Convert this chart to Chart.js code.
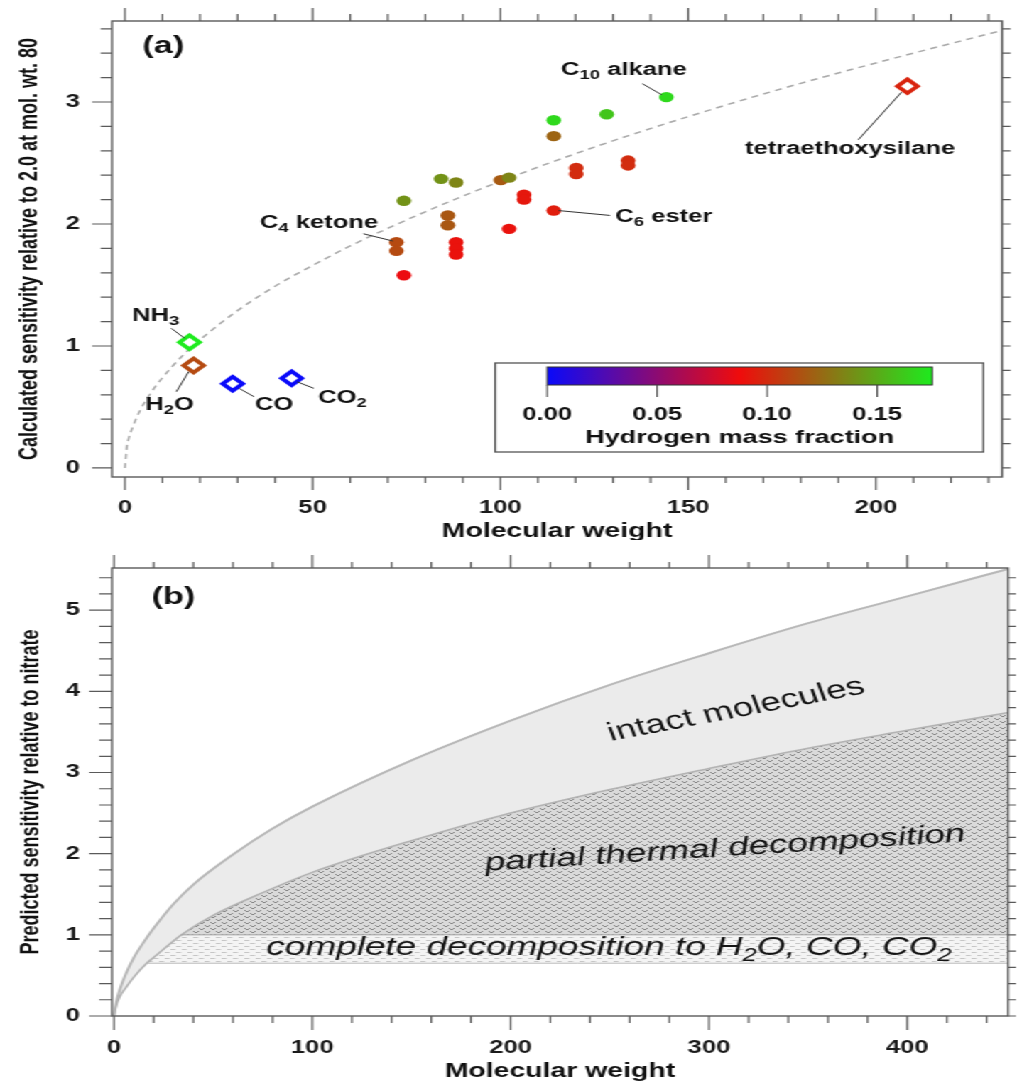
<!DOCTYPE html>
<html>
<head>
<meta charset="utf-8">
<title>Sensitivity vs molecular weight</title>
<script src="https://cdn.jsdelivr.net/npm/chart.js@4.4.1/dist/chart.umd.min.js"></script>
<style>
  html, body { margin:0; padding:0; background:#ffffff; overflow:hidden; }
  #wrap { position:absolute; left:0; top:0; width:716px; height:1081px; transform:scaleX(1.42039); transform-origin:0 0; }
  .box { position:absolute; left:0; width:716px; }
  #boxA { top:0; height:540px; }
  #boxB { top:540px; height:541px; }
</style>
</head>
<body>
<div id="wrap">
  <div class="box" id="boxA"><canvas id="chartA"></canvas></div>
  <div class="box" id="boxB"><canvas id="chartB"></canvas></div>
</div>
<script>
// ================= DATA =================
// Panel (a): organic compounds (filled circles)
const orgMW    = [144.2, 128.3, 114.2, 114.2, 134.0, 134.0, 120.2, 120.2, 84.2, 88.2, 100.1, 102.3, 106.3, 106.3, 114.2, 74.3, 86.0, 86.0, 102.3, 72.3, 72.3, 88.2, 88.2, 88.2, 74.3];
const orgSens  = [3.04, 2.90, 2.85, 2.72, 2.52, 2.48, 2.46, 2.41, 2.37, 2.34, 2.36, 2.38, 2.24, 2.20, 2.11, 2.19, 2.07, 1.99, 1.96, 1.85, 1.78, 1.85, 1.80, 1.75, 1.58];
const orgHfrac = [0.168, 0.160, 0.168, 0.122, 0.100, 0.100, 0.100, 0.100, 0.140, 0.135, 0.118, 0.135, 0.092, 0.092, 0.094, 0.140, 0.117, 0.117, 0.090, 0.112, 0.112, 0.090, 0.090, 0.090, 0.086];

// Panel (a): small molecules (open diamonds)
const gasNames = ['NH3', 'H2O', 'CO', 'CO2', 'tetraethoxysilane'];
const gasMW    = [17.2, 18.3, 28.7, 44.4, 208.4];
const gasSens  = [1.03, 0.84, 0.69, 0.735, 3.13];
const gasHfrac = [0.178, 0.112, 0.0, 0.0, 0.097];

// Panel (a): dashed reference curve (2.0 at mol. wt. 80)
const refMW   = [0, 0.5, 1, 2, 4, 7, 10, 15, 20, 30, 40, 50, 60, 80, 100, 125, 150, 175, 200, 234];
const refSens = [0, 0.17, 0.24, 0.33, 0.47, 0.62, 0.74, 0.91, 1.05, 1.29, 1.49, 1.66, 1.82, 2.10, 2.35, 2.63, 2.88, 3.11, 3.32, 3.59];

// Panel (a): axis ticks and colour bar ticks
const aXTicks = [0, 50, 100, 150, 200];
const aYTicks = [0, 1, 2, 3];
const cbTicks = [0.00, 0.05, 0.10, 0.15];
const cbTickLabels = ['0.00', '0.05', '0.10', '0.15'];

// Panel (b): boundaries
const upMW    = [0, 1, 3, 6, 10, 15, 20, 30, 40, 60, 80, 100, 150, 200, 250, 300, 350, 400, 451];
const upSens  = [0, 0.15, 0.33, 0.52, 0.72, 0.91, 1.08, 1.38, 1.62, 1.99, 2.31, 2.58, 3.15, 3.64, 4.08, 4.47, 4.84, 5.17, 5.51];
const midMW   = [0, 1, 3, 6, 10, 16.5, 20, 34, 50, 75, 100, 150, 200, 250, 300, 350, 400, 451];
const midSens = [0, 0.12, 0.24, 0.35, 0.48, 0.65, 0.72, 1.00, 1.24, 1.52, 1.77, 2.16, 2.50, 2.79, 3.05, 3.30, 3.52, 3.74];
const bandTopMW   = [34, 451];
const bandTopSens = [1.0, 1.0];
const bandLowMW   = [16.5, 451];
const bandLowSens = [0.65, 0.65];

// Panel (b): axis ticks
const bXTicks = [0, 100, 200, 300, 400];
const bYTicks = [0, 1, 2, 3, 4, 5];

// ================= STYLE HELPERS =================
const FAM = '"Liberation Sans", Arial, Helvetica, sans-serif';
Chart.defaults.font.family = FAM;
Chart.defaults.color = '#1a1a1a';

function hColor(h) {
  const hm = 0.0875, hx = 0.175;
  const B = [10, 10, 250], R = [240, 12, 12], G = [30, 235, 30];
  let c;
  if (h <= hm) {
    const t = Math.max(0, h / hm);
    c = B.map((v, i) => v + (R[i] - v) * t);
  } else {
    const t = Math.min(1, (h - hm) / (hx - hm));
    c = R.map((v, i) => v + (G[i] - v) * t);
  }
  return 'rgb(' + c.map(Math.round).join(',') + ')';
}
function pts(xs, ys) { return xs.map((x, i) => ({x: x, y: ys[i]})); }
function steps(a, b, s) { const o = []; for (let k = 0; a + k * s <= b + 1e-9; k++) o.push(+(a + k * s).toFixed(6)); return o; }
function isMajor(v, step) { const r = v / step; return Math.abs(r - Math.round(r)) < 1e-6; }
function noPad(s) { s.paddingTop = 0; s.paddingBottom = 0; s.paddingLeft = 0; s.paddingRight = 0; }

function drawRich(ctx, parts, x, y, size, o) {
  const st = o.italic ? 'italic ' : '';
  const wt = o.weight || 'bold';
  const fMain = st + wt + ' ' + size + 'px ' + FAM;
  const fSub = st + wt + ' ' + Math.round(size * 0.7) + 'px ' + FAM;
  let w = 0;
  parts.forEach(p => { ctx.font = p[1] ? fSub : fMain; w += ctx.measureText(p[0]).width; });
  let cx = o.align === 'left' ? x : (o.align === 'right' ? x - w : x - w / 2);
  ctx.textBaseline = 'middle';
  ctx.textAlign = 'left';
  parts.forEach(p => {
    ctx.font = p[1] ? fSub : fMain;
    ctx.fillText(p[0], cx, p[1] ? y + size * 0.3 : y);
    cx += ctx.measureText(p[0]).width;
  });
}

function drawFrame(chart, t) {
  const {ctx, chartArea: a, scales: {x, y}} = chart;
  ctx.save();
  ctx.strokeStyle = '#5a5a5a';
  ctx.lineWidth = 1.2;
  ctx.beginPath();
  t.xMinor.forEach(v => {
    const px = x.getPixelForValue(v);
    const maj = isMajor(v, t.xMajor);
    ctx.moveTo(px, a.bottom); ctx.lineTo(px, a.bottom + (maj ? t.bMaj : t.bMin));
    ctx.moveTo(px, a.top); ctx.lineTo(px, a.top - (maj ? t.tMaj : t.tMin));
  });
  t.yMinor.forEach(v => {
    const py = y.getPixelForValue(v);
    const maj = isMajor(v, 1);
    ctx.moveTo(a.left, py); ctx.lineTo(a.left - (maj ? t.lMaj : t.lMin), py);
    ctx.moveTo(a.right, py); ctx.lineTo(a.right + t.rLen, py);
  });
  ctx.stroke();
  ctx.lineWidth = 1.4;
  ctx.strokeRect(a.left, a.top, a.right - a.left, a.bottom - a.top);
  ctx.restore();
}

function drawTitles(chart, xt, yt, xTitleY, yTitleX) {
  const {ctx, chartArea: a} = chart;
  ctx.save();
  ctx.fillStyle = '#111';
  ctx.textAlign = 'center';
  ctx.textBaseline = 'middle';
  ctx.font = 'bold 20px ' + FAM;
  ctx.fillText(xt, (a.left + a.right) / 2, xTitleY);
  ctx.translate(yTitleX, (a.top + a.bottom) / 2);
  ctx.rotate(-Math.PI / 2);
  ctx.font = 'bold 18px ' + FAM;
  ctx.fillText(yt, 0, 0);
  ctx.restore();
}

// ================= PANEL (a) =================
const aNotes = [
  {t: [['C', 0], ['10', 1], [' alkane', 0]], x: 132.9, y: 3.26, l: [137.8, 3.15, 142.9, 3.06]},
  {t: [['tetraethoxysilane', 0]], x: 193.1, y: 2.615, l: [206.8, 3.08, 195.3, 2.69]},
  {t: [['C', 0], ['6', 1], [' ester', 0]], x: 143.5, y: 2.057, l: [115.5, 2.11, 129.2, 2.07]},
  {t: [['C', 0], ['4', 1], [' ketone', 0]], x: 51.7, y: 2.01, l: [63.5, 1.92, 71.4, 1.86]},
  {t: [['NH', 0], ['3', 1]], x: 8.2, y: 1.246, l: [12.35, 1.145, 15.9, 1.063]},
  {t: [['H', 0], ['2', 1], ['O', 0]], x: 11.9, y: 0.516, l: [13.7, 0.625, 17.0, 0.79]},
  {t: [['CO', 0]], x: 39.7, y: 0.512, l: [30.4, 0.653, 34.4, 0.584]},
  {t: [['CO', 0], ['2', 1]], x: 57.9, y: 0.57, l: [45.8, 0.707, 50.3, 0.653]}
];

const plugA = {
  id: 'plugA',
  afterDatasetsDraw(chart) {
    const {ctx, scales: {x, y}} = chart;
    ctx.save();
    ctx.strokeStyle = '#333';
    ctx.lineWidth = 1;
    aNotes.forEach(n => {
      ctx.beginPath();
      ctx.moveTo(x.getPixelForValue(n.l[0]), y.getPixelForValue(n.l[1]));
      ctx.lineTo(x.getPixelForValue(n.l[2]), y.getPixelForValue(n.l[3]));
      ctx.stroke();
      ctx.fillStyle = '#111';
      drawRich(ctx, n.t, x.getPixelForValue(n.x), y.getPixelForValue(n.y), 18, {weight: 'bold'});
    });
    ctx.restore();
  },
  afterDraw(chart) {
    const {ctx, chartArea: a} = chart;
    drawFrame(chart, {xMinor: steps(0, 230, 10), xMajor: 50, yMinor: steps(0, 3.6, 0.2),
      bMaj: 13, bMin: 6, tMaj: 13, tMin: 7, lMaj: 14, lMin: 8, rLen: 6});
    // panel label
    ctx.save();
    ctx.fillStyle = '#111';
    ctx.font = 'bold 24px ' + FAM;
    ctx.textAlign = 'left'; ctx.textBaseline = 'middle';
    ctx.fillText('(a)', a.left + 21.5, a.top + 25);
    // colour bar legend
    const box = {x1: 348.6, x2: 692.3, y1: 363, y2: 452};
    const bar = {x1: 385.2, x2: 656.3, y1: 367, y2: 385, vmax: 0.175};
    ctx.strokeStyle = '#555'; ctx.lineWidth = 1.3;
    ctx.fillStyle = '#fff';
    ctx.fillRect(box.x1, box.y1, box.x2 - box.x1, box.y2 - box.y1);
    ctx.strokeRect(box.x1, box.y1, box.x2 - box.x1, box.y2 - box.y1);
    const g = ctx.createLinearGradient(bar.x1, 0, bar.x2, 0);
    [0, 0.025, 0.05, 0.0875, 0.11, 0.13, 0.15, 0.175].forEach(v => g.addColorStop(v / bar.vmax, hColor(v)));
    ctx.fillStyle = g;
    ctx.fillRect(bar.x1, bar.y1, bar.x2 - bar.x1, bar.y2 - bar.y1);
    ctx.strokeStyle = '#333'; ctx.lineWidth = 1;
    ctx.strokeRect(bar.x1, bar.y1, bar.x2 - bar.x1, bar.y2 - bar.y1);
    ctx.beginPath();
    cbTicks.forEach(v => {
      const px = bar.x1 + (bar.x2 - bar.x1) * v / bar.vmax;
      ctx.moveTo(px, bar.y2); ctx.lineTo(px, bar.y2 + 12);
    });
    ctx.strokeStyle = '#444'; ctx.stroke();
    ctx.fillStyle = '#111';
    ctx.font = 'bold 18px ' + FAM;
    ctx.textAlign = 'center'; ctx.textBaseline = 'middle';
    cbTicks.forEach((v, i) => {
      const px = bar.x1 + (bar.x2 - bar.x1) * v / bar.vmax;
      ctx.fillText(cbTickLabels[i], px, 415.5);
    });
    ctx.font = 'bold 19px ' + FAM;
    ctx.fillText('Hydrogen mass fraction', (bar.x1 + bar.x2) / 2, 438);
    ctx.restore();
    drawTitles(chart, 'Molecular weight', 'Calculated sensitivity relative to 2.0 at mol. wt. 80', 531, 21.1);
  }
};

new Chart(document.getElementById('chartA'), {
  type: 'line',
  data: {
    datasets: [
      {
        label: 'small molecules',
        data: pts(gasMW, gasSens),
        showLine: false,
        pointStyle: 'rectRot',
        pointRadius: 7,
        pointBorderWidth: 3.5,
        pointBackgroundColor: '#ffffff',
        pointBorderColor: gasHfrac.map(hColor)
      },
      {
        label: 'organics',
        data: pts(orgMW, orgSens),
        showLine: false,
        pointStyle: 'circle',
        pointRadius: 5.2,
        pointBorderWidth: 0,
        pointBackgroundColor: orgHfrac.map(hColor),
        pointBorderColor: orgHfrac.map(hColor)
      },
      {
        label: 'reference',
        data: pts(refMW, refSens),
        borderColor: '#a9a9a9',
        borderWidth: 1.5,
        borderDash: [5, 4],
        pointRadius: 0,
        cubicInterpolationMode: 'monotone',
        fill: false
      }
    ]
  },
  options: {
    responsive: true,
    maintainAspectRatio: false,
    animation: false,
    events: [],
    layout: {padding: {left: 0, right: 6.3, top: 21, bottom: 0}},
    plugins: {legend: {display: false}, tooltip: {enabled: false}},
    scales: {
      x: {
        type: 'linear', min: -3.44, max: 233.6, bounds: 'data',
        grid: {display: false, drawTicks: false}, border: {display: false},
        ticks: {font: {size: 18, weight: 'bold'}, padding: 20.5, maxRotation: 0, autoSkip: false, color: '#1a1a1a', callback: v => String(v)},
        afterBuildTicks: s => { s.ticks = aXTicks.map(v => ({value: v})); },
        afterFit: s => { s.height = 63; noPad(s); }
      },
      y: {
        type: 'linear', min: -0.074, max: 3.664, bounds: 'data',
        grid: {display: false, drawTicks: false}, border: {display: false},
        ticks: {font: {size: 18, weight: 'bold'}, padding: 22.6, autoSkip: false, color: '#1a1a1a', callback: v => String(v)},
        afterBuildTicks: s => { s.ticks = aYTicks.map(v => ({value: v})); },
        afterFit: s => { s.width = 78.85; noPad(s); }
      }
    }
  },
  plugins: [plugA]
});

// ================= PANEL (b) =================
function makePattern(w, h, bg, fg, draw) {
  const c = document.createElement('canvas');
  c.width = w; c.height = h;
  const g = c.getContext('2d');
  g.fillStyle = bg; g.fillRect(0, 0, w, h);
  g.strokeStyle = fg; g.lineWidth = 1;
  g.beginPath(); draw(g); g.stroke();
  return document.getElementById('chartB').getContext('2d').createPattern(c, 'repeat');
}
const darkPat = makePattern(8, 6, '#dadada', '#878787', g => {
  g.moveTo(0, 1); g.lineTo(2, 3); g.lineTo(4, 1);
  g.moveTo(4, 4); g.lineTo(6, 6); g.lineTo(8, 4);
});
const lightPat = makePattern(8, 6, '#f4f4f4', '#c6c6c6', g => {
  g.moveTo(0, 1.5); g.lineTo(3.5, 1.5);
  g.moveTo(4, 4.5); g.lineTo(7.5, 4.5);
});

const bNotes = [
  {t: [['intact molecules', 0]], x: 313.7, y: 3.77, rot: -15, italic: false},
  {t: [['partial thermal decomposition', 0]], x: 308.1, y: 2.06, rot: -5, italic: true},
  {t: [['complete decomposition to H', 0], ['2', 1], ['O, CO, CO', 0], ['2', 1]], x: 249.6, y: 0.84, rot: 0, italic: true}
];

const plugB = {
  id: 'plugB',
  afterDatasetsDraw(chart) {
    const {ctx, scales: {x, y}} = chart;
    bNotes.forEach(n => {
      ctx.save();
      ctx.translate(x.getPixelForValue(n.x), y.getPixelForValue(n.y));
      ctx.rotate(n.rot * Math.PI / 180);
      ctx.fillStyle = '#141414';
      drawRich(ctx, n.t, 0, 0, 26, {weight: 'normal', italic: n.italic});
      ctx.restore();
    });
  },
  afterDraw(chart) {
    const {ctx, chartArea: a} = chart;
    drawFrame(chart, {xMinor: steps(0, 440, 20), xMajor: 100, yMinor: steps(0, 5.4, 0.2),
      bMaj: 14, bMin: 7, tMaj: 13, tMin: 6, lMaj: 16, lMin: 9, rLen: 5.5});
    ctx.save();
    ctx.fillStyle = '#111';
    ctx.font = 'bold 24px ' + FAM;
    ctx.textAlign = 'left'; ctx.textBaseline = 'middle';
    ctx.fillText('(b)', a.left + 28, a.top + 29);
    ctx.restore();
    drawTitles(chart, 'Molecular weight', 'Predicted sensitivity relative to nitrate', 531, 22.5);
  }
};

new Chart(document.getElementById('chartB'), {
  type: 'line',
  data: {
    datasets: [
      { // 0: top edge of complete-decomposition band
        data: pts(bandTopMW, bandTopSens),
        borderColor: '#a0a0a0', borderWidth: 1, pointRadius: 0, fill: false
      },
      { // 1: bottom edge of complete-decomposition band
        data: pts(bandLowMW, bandLowSens),
        borderColor: '#bdbdbd', borderWidth: 1, pointRadius: 0, fill: false
      },
      { // 2: partial decomposition lower bound (filled down to the 1.0 edge)
        data: pts(midMW, midSens),
        borderColor: '#b3b3b3', borderWidth: 1.6, pointRadius: 0,
        cubicInterpolationMode: 'monotone',
        fill: 0, backgroundColor: darkPat
      },
      { // 3: intact molecules upper bound
        data: pts(upMW, upSens),
        borderColor: '#b8b8b8', borderWidth: 2, pointRadius: 0,
        cubicInterpolationMode: 'monotone',
        fill: 2, backgroundColor: '#ebebeb'
      },
      { // 4: complete decomposition band (capped at 1.0, filled down to 0.65 edge)
        data: pts(midMW, midSens.map(v => Math.min(v, 1.0))),
        borderWidth: 0, borderColor: 'rgba(0,0,0,0)', pointRadius: 0,
        cubicInterpolationMode: 'monotone',
        fill: 1, backgroundColor: lightPat
      }
    ]
  },
  options: {
    responsive: true,
    maintainAspectRatio: false,
    animation: false,
    events: [],
    layout: {padding: {left: 0, right: 6.3, top: 28, bottom: 0}},
    plugins: {legend: {display: false}, tooltip: {enabled: false}},
    scales: {
      x: {
        type: 'linear', min: -1.0, max: 450.8, bounds: 'data',
        grid: {display: false, drawTicks: false}, border: {display: false},
        ticks: {font: {size: 18, weight: 'bold'}, padding: 21.5, maxRotation: 0, autoSkip: false, color: '#1a1a1a', callback: v => String(v)},
        afterBuildTicks: s => { s.ticks = bXTicks.map(v => ({value: v})); },
        afterFit: s => { s.height = 65; noPad(s); }
      },
      y: {
        type: 'linear', min: 0, max: 5.52, bounds: 'data',
        grid: {display: false, drawTicks: false}, border: {display: false},
        ticks: {font: {size: 18, weight: 'bold'}, padding: 22.6, autoSkip: false, color: '#1a1a1a', callback: v => String(v)},
        afterBuildTicks: s => { s.ticks = bYTicks.map(v => ({value: v})); },
        afterFit: s => { s.width = 78.85; noPad(s); }
      }
    }
  },
  plugins: [plugB]
});
</script>
</body>
</html>
